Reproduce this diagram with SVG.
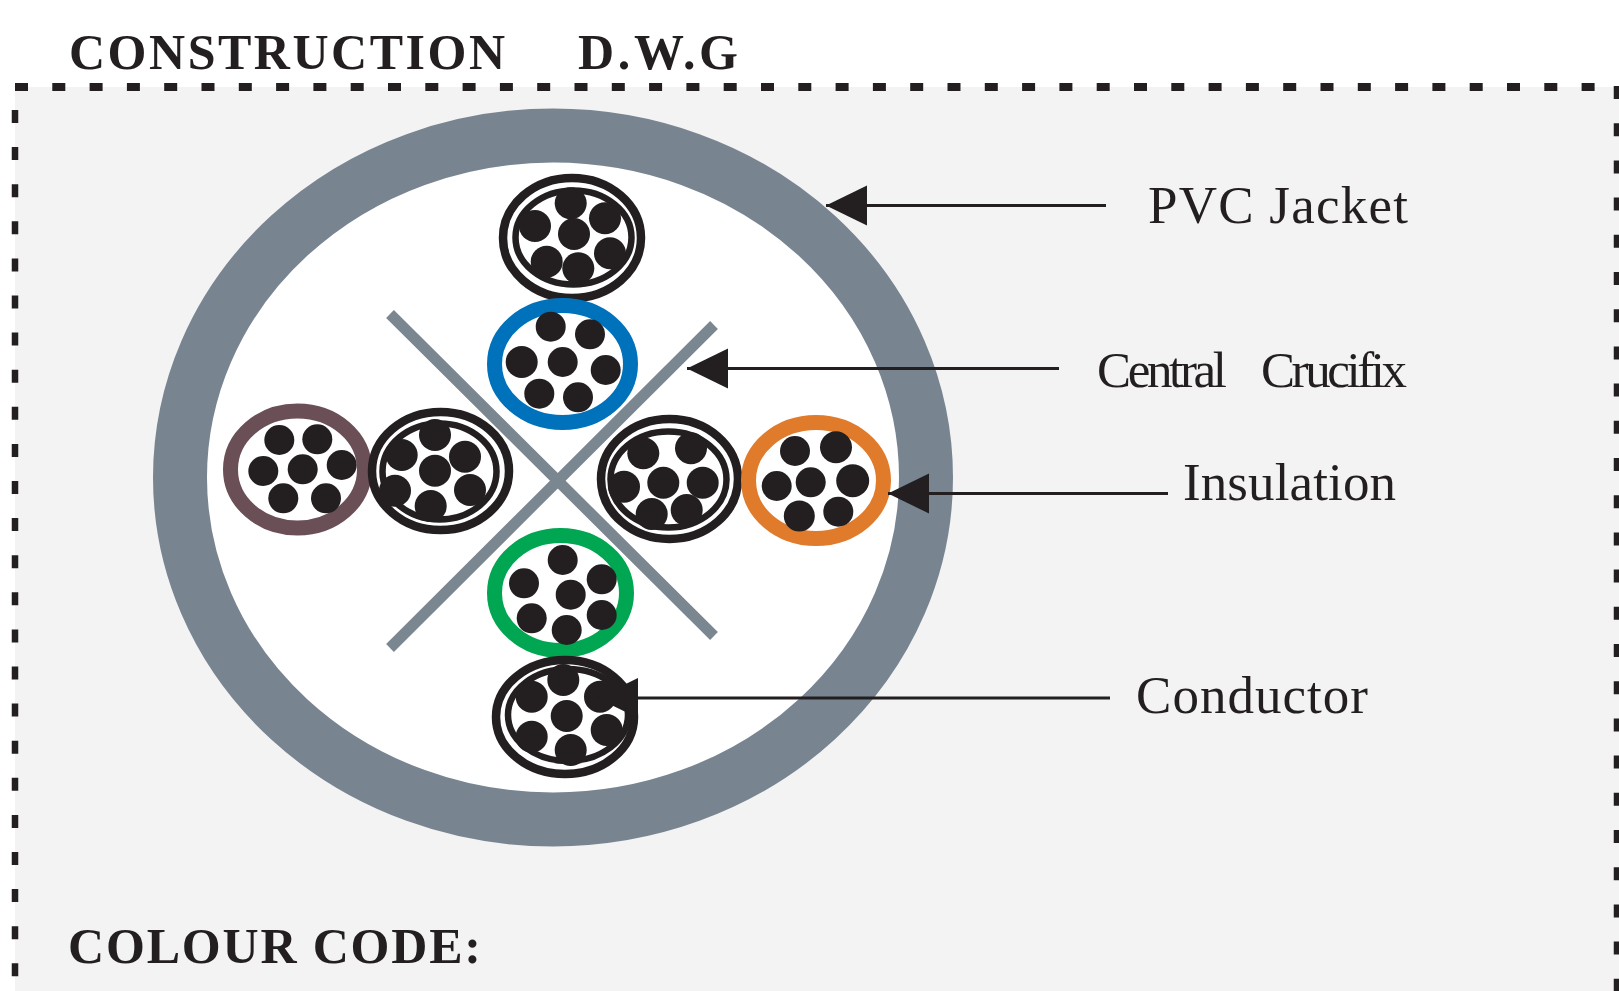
<svg xmlns="http://www.w3.org/2000/svg" width="1619" height="991" viewBox="0 0 1619 991">
<style>
.t{font-family:"Liberation Serif","Times New Roman",serif;fill:#231f20}
.h{font-weight:bold;font-size:50px}
.l{font-size:53px}
.m{font-size:51px}
.dash{fill:none;stroke:#231f20}
.cross{stroke:#7a8690;stroke-width:11;fill:none}
.c{fill:#231f20}
.k circle{r:16px}
.ins{fill:#fff;stroke-width:15}
.o{fill:#fff;stroke:#231f20;stroke-width:8.500}
.i{fill:#fff;stroke:#231f20;stroke-width:6.500}
.a{stroke:#231f20;stroke-width:3;fill:none;marker-end:url(#head)}
</style>
<defs>
<marker id="head" markerUnits="userSpaceOnUse" markerWidth="42" markerHeight="42" refX="41" refY="21" orient="auto"><path d="M0 21L41 1V41Z" transform="rotate(180 20.5 21)" fill="#231f20"/></marker>
</defs>
<rect width="1619" height="991" fill="#fff"/>
<g id="frame">
<rect x="15" y="87" width="1604" height="904" fill="#f3f3f3"/>
<path class="dash" stroke-width="8" d="M15 87H1610" stroke-dasharray="13 24.300"/>
<path class="dash" stroke-width="6.500" d="M15 110V991" stroke-dasharray="13 24.100"/>
<path class="dash" stroke-width="6.500" d="M1617 86V991" stroke-dasharray="13 24.200"/>
</g>
<text id="title" class="t h" y="68.500"><tspan x="69" textLength="436" lengthAdjust="spacing">CONSTRUCTION</tspan><tspan x="578" textLength="160" lengthAdjust="spacing">D.W.G</tspan></text>
<text id="colour-code" class="t h" x="68" y="962.500" textLength="413" lengthAdjust="spacing">COLOUR CODE:</text>
<g id="jacket"><ellipse cx="553" cy="477.500" rx="373" ry="342" fill="#fff" stroke="#788591" stroke-width="54"/></g>
<g id="crucifix"><path class="cross" d="M390 314L714 636M714 325L390 648"/></g>
<g id="cable-top">
<ellipse class="o" cx="572" cy="238" rx="69" ry="60"/><ellipse class="i" cx="573.500" cy="237.500" rx="58" ry="47"/>
<g class="c k"><circle cx="570.700" cy="203.300" r="14.500"/><circle cx="535" cy="226" r="14.500"/><circle cx="605" cy="218.300" r="14.500"/><circle cx="574" cy="234" r="14.500"/><circle cx="610" cy="253.300" r="14.500"/><circle cx="546.700" cy="261.700" r="14.500"/><circle cx="578.300" cy="268.300" r="14.500"/></g>
</g>
<g id="cable-blue">
<ellipse class="ins" stroke="#0072bc" cx="562.500" cy="364" rx="68" ry="58.500"/>
<g class="c"><circle cx="550.700" cy="326.700" r="15"/><circle cx="590" cy="334.300" r="15"/><circle cx="521.700" cy="362" r="16"/><circle cx="562.700" cy="362" r="15"/><circle cx="605.700" cy="370" r="15"/><circle cx="539.300" cy="393.700" r="15"/><circle cx="578" cy="397.300" r="15"/></g>
</g>
<g id="cable-brown">
<ellipse class="ins" stroke="#6b4f57" cx="297.500" cy="469.500" rx="67" ry="58.500"/>
<g class="c"><circle cx="279.300" cy="440" r="15"/><circle cx="317.300" cy="439.300" r="15"/><circle cx="263.300" cy="471" r="15"/><circle cx="302.700" cy="469.300" r="15"/><circle cx="341.700" cy="465" r="15"/><circle cx="283.300" cy="498.300" r="15"/><circle cx="326" cy="498.300" r="15"/></g>
</g>
<g id="cable-left">
<ellipse class="o" cx="440.500" cy="471" rx="68.500" ry="59"/><ellipse class="i" cx="439.500" cy="471.500" rx="57" ry="48"/>
<g class="c k"><circle cx="435" cy="435" r="14.500"/><circle cx="401.700" cy="455" r="14.500"/><circle cx="465" cy="456.700" r="14.500"/><circle cx="435" cy="470.700" r="14.500"/><circle cx="395" cy="490.700" r="14.500"/><circle cx="470" cy="490" r="14.500"/><circle cx="430.700" cy="506" r="14.500"/></g>
</g>
<g id="cable-right">
<ellipse class="o" cx="669.500" cy="479" rx="68.500" ry="60"/><ellipse class="i" cx="668.500" cy="479.500" rx="58" ry="48"/>
<g class="c k"><circle cx="643.300" cy="453.300" r="14.500"/><circle cx="691" cy="448.300" r="14.500"/><circle cx="624" cy="486.700" r="14.500"/><circle cx="663.300" cy="482.700" r="14.500"/><circle cx="702.700" cy="482.700" r="14.500"/><circle cx="651.700" cy="514" r="14.500"/><circle cx="686.700" cy="510" r="14.500"/></g>
</g>
<g id="cable-orange">
<ellipse class="ins" stroke="#e17b2c" cx="816" cy="480.500" rx="67.500" ry="58"/>
<g class="c"><circle cx="795" cy="451" r="15"/><circle cx="836" cy="447.300" r="16"/><circle cx="776.700" cy="486" r="15"/><circle cx="810.700" cy="482.300" r="15"/><circle cx="852.700" cy="480.700" r="16.500"/><circle cx="799.300" cy="516" r="15.500"/><circle cx="838.300" cy="511.700" r="15"/></g>
</g>
<g id="cable-green">
<ellipse class="ins" stroke="#00a651" cx="560.500" cy="593" rx="66" ry="57.500"/>
<g class="c"><circle cx="562.700" cy="560" r="15"/><circle cx="524" cy="583.300" r="15"/><circle cx="601.700" cy="579.300" r="15"/><circle cx="570.700" cy="594.700" r="15"/><circle cx="531.700" cy="618.300" r="15"/><circle cx="601.700" cy="615" r="15"/><circle cx="566.700" cy="630" r="15"/></g>
</g>
<g id="cable-bottom">
<ellipse class="o" cx="565" cy="717" rx="69" ry="57"/><ellipse class="i" cx="568" cy="715" rx="60" ry="46"/>
<g class="c k"><circle cx="563.300" cy="680" r="14.500"/><circle cx="531.700" cy="696.700" r="14.500"/><circle cx="600" cy="696.700" r="14.500"/><circle cx="566.700" cy="716" r="14.500"/><circle cx="531.700" cy="736.700" r="14.500"/><circle cx="606.700" cy="730" r="14.500"/><circle cx="570.700" cy="750" r="14.500"/></g>
</g>
<g id="connectors">
<path class="a" d="M1106 205.500H826"/>
<path class="a" d="M1059 368.500H687"/>
<path class="a" d="M1168 493.500H888"/>
<path class="a" d="M1110 698H597"/>
</g>
<g id="labels">
<text class="t l" x="1148" y="223" textLength="260" lengthAdjust="spacing">PVC Jacket</text>
<text class="t m" y="387"><tspan x="1097" textLength="130" lengthAdjust="spacing">Central</tspan><tspan x="1261" textLength="146" lengthAdjust="spacing">Crucifix</tspan></text>
<text class="t l" x="1183" y="500" textLength="213" lengthAdjust="spacing">Insulation</text>
<text class="t l" x="1136" y="713" textLength="232" lengthAdjust="spacing">Conductor</text>
</g>
</svg>
